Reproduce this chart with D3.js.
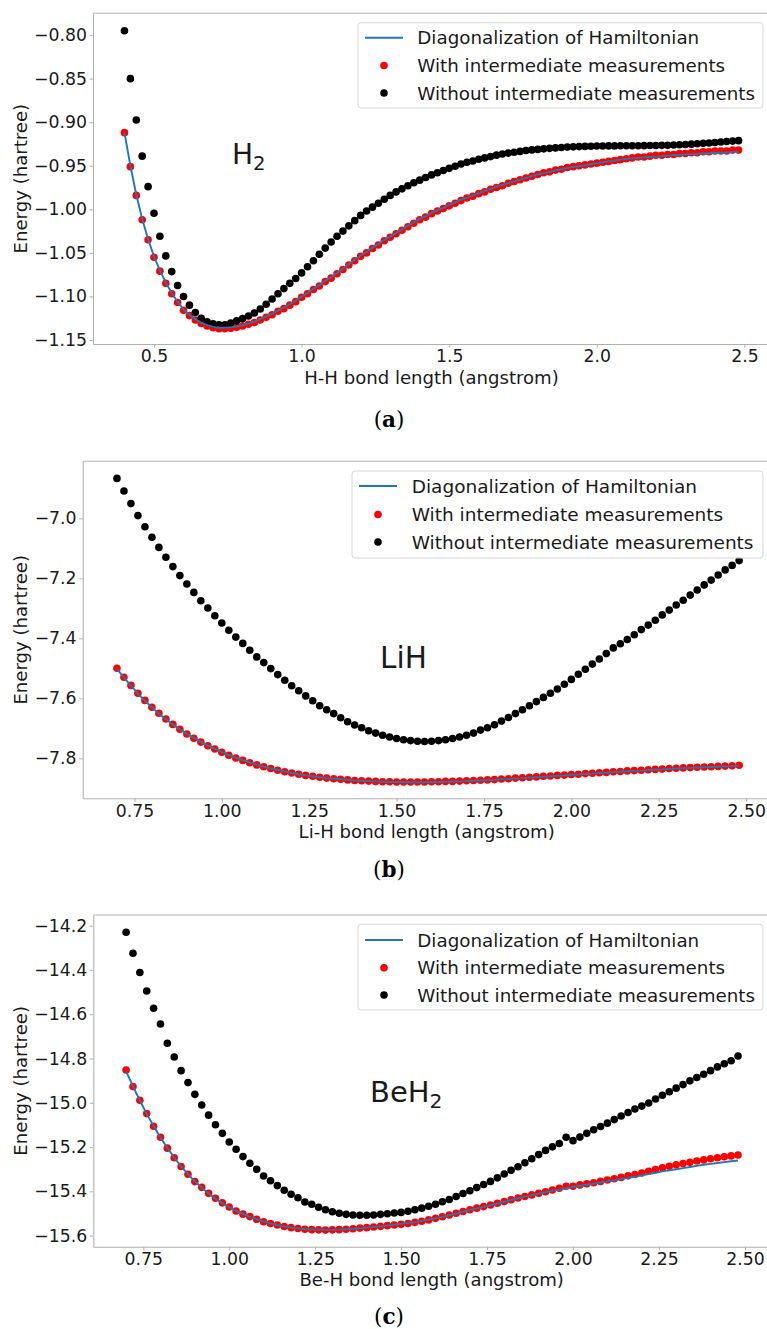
<!DOCTYPE html>
<html>
<head>
<meta charset="utf-8">
<script src="https://cdn.jsdelivr.net/npm/d3@7/dist/d3.min.js"></script>
<style>
  body { margin: 0; background: #fff; overflow: hidden; }
  svg { display: block; }
</style>
</head>
<body>
<div id="chart"></div>
<script>
// legend entries, shared by all panels
const seriesNames = ["Diagonalization of Hamiltonian", "With intermediate measurements", "Without intermediate measurements"];

// bond lengths (angstrom)
const bondH2 = [
  0.40,0.42,0.44,0.46,0.48,0.50,0.52,0.54,0.56,0.58,
  0.60,0.62,0.64,0.66,0.68,0.70,0.72,0.74,0.76,0.78,
  0.80,0.82,0.84,0.86,0.88,0.90,0.92,0.94,0.96,0.98,
  1.00,1.02,1.04,1.06,1.08,1.10,1.12,1.14,1.16,1.18,
  1.20,1.22,1.24,1.26,1.28,1.30,1.32,1.34,1.36,1.38,
  1.40,1.42,1.44,1.46,1.48,1.50,1.52,1.54,1.56,1.58,
  1.60,1.62,1.64,1.66,1.68,1.70,1.72,1.74,1.76,1.78,
  1.80,1.82,1.84,1.86,1.88,1.90,1.92,1.94,1.96,1.98,
  2.00,2.02,2.04,2.06,2.08,2.10,2.12,2.14,2.16,2.18,
  2.20,2.22,2.24,2.26,2.28,2.30,2.32,2.34,2.36,2.38,
  2.40,2.42,2.44,2.46,2.48
];
const bondHeavy = [
  0.70,0.72,0.74,0.76,0.78,0.80,0.82,0.84,0.86,0.88,
  0.90,0.92,0.94,0.96,0.98,1.00,1.02,1.04,1.06,1.08,
  1.10,1.12,1.14,1.16,1.18,1.20,1.22,1.24,1.26,1.28,
  1.30,1.32,1.34,1.36,1.38,1.40,1.42,1.44,1.46,1.48,
  1.50,1.52,1.54,1.56,1.58,1.60,1.62,1.64,1.66,1.68,
  1.70,1.72,1.74,1.76,1.78,1.80,1.82,1.84,1.86,1.88,
  1.90,1.92,1.94,1.96,1.98,2.00,2.02,2.04,2.06,2.08,
  2.10,2.12,2.14,2.16,2.18,2.20,2.22,2.24,2.26,2.28,
  2.30,2.32,2.34,2.36,2.38,2.40,2.42,2.44,2.46,2.48
];

// H2 energies (hartree)
const h2Exact = [
  -0.912,-0.950,-0.983,-1.011,-1.034,-1.054,-1.070,-1.084,-1.096,-1.106,
  -1.115,-1.121,-1.126,-1.130,-1.133,-1.135,-1.136,-1.136,-1.1355,-1.1345,
  -1.133,-1.131,-1.129,-1.126,-1.123,-1.120,-1.116,-1.113,-1.109,-1.105,
  -1.100,-1.096,-1.091,-1.087,-1.082,-1.078,-1.073,-1.068,-1.063,-1.058,
  -1.053,-1.049,-1.044,-1.040,-1.035,-1.031,-1.027,-1.023,-1.019,-1.015,
  -1.011,-1.008,-1.004,-1.001,-0.998,-0.995,-0.992,-0.989,-0.9865,-0.984,
  -0.9815,-0.979,-0.9765,-0.974,-0.972,-0.970,-0.968,-0.966,-0.964,-0.962,
  -0.960,-0.9585,-0.957,-0.9555,-0.954,-0.9525,-0.9515,-0.9505,-0.9495,-0.948,
  -0.947,-0.946,-0.945,-0.944,-0.943,-0.942,-0.9415,-0.941,-0.9405,-0.940,
  -0.9395,-0.939,-0.9385,-0.938,-0.9375,-0.937,-0.9367,-0.9365,-0.936,-0.9357,
  -0.9354,-0.935,-0.9347,-0.9344,-0.934
];
const h2With = [
  -0.912,-0.951,-0.984,-1.012,-1.035,-1.055,-1.071,-1.085,-1.097,-1.107,
  -1.116,-1.122,-1.127,-1.131,-1.134,-1.136,-1.137,-1.137,-1.1365,-1.1355,
  -1.134,-1.132,-1.130,-1.127,-1.124,-1.121,-1.117,-1.114,-1.110,-1.106,
  -1.101,-1.097,-1.092,-1.088,-1.083,-1.079,-1.074,-1.069,-1.064,-1.059,
  -1.054,-1.050,-1.045,-1.041,-1.036,-1.032,-1.028,-1.024,-1.020,-1.016,
  -1.012,-1.009,-1.005,-1.002,-0.999,-0.996,-0.993,-0.990,-0.987,-0.985,
  -0.982,-0.980,-0.977,-0.975,-0.973,-0.970,-0.968,-0.966,-0.964,-0.962,
  -0.960,-0.958,-0.957,-0.955,-0.954,-0.952,-0.951,-0.950,-0.949,-0.948,
  -0.947,-0.946,-0.945,-0.944,-0.943,-0.942,-0.941,-0.940,-0.940,-0.939,
  -0.938,-0.938,-0.937,-0.937,-0.936,-0.936,-0.935,-0.935,-0.934,-0.934,
  -0.933,-0.933,-0.933,-0.932,-0.932
];
const h2Without = [
  -0.795,-0.850,-0.8975,-0.939,-0.974,-1.0045,-1.031,-1.0535,-1.0715,-1.0875,
  -1.100,-1.110,-1.1185,-1.125,-1.129,-1.1315,-1.1325,-1.1325,-1.1305,-1.128,
  -1.1255,-1.1225,-1.119,-1.1145,-1.109,-1.103,-1.097,-1.091,-1.085,-1.0795,
  -1.073,-1.066,-1.059,-1.0515,-1.0445,-1.0375,-1.031,-1.025,-1.019,-1.013,
  -1.007,-1.002,-0.9975,-0.993,-0.9885,-0.984,-0.980,-0.9765,-0.973,-0.9695,
  -0.9665,-0.9635,-0.9605,-0.958,-0.9555,-0.953,-0.9505,-0.948,-0.946,-0.9445,
  -0.9425,-0.941,-0.9395,-0.9378,-0.9365,-0.9355,-0.9345,-0.9335,-0.9325,-0.9318,
  -0.9312,-0.9306,-0.930,-0.9295,-0.929,-0.9286,-0.9283,-0.928,-0.9278,-0.9276,
  -0.9274,-0.9273,-0.9272,-0.9272,-0.9271,-0.9271,-0.927,-0.927,-0.9269,-0.9268,
  -0.9267,-0.9266,-0.9264,-0.9262,-0.9259,-0.9256,-0.9252,-0.9248,-0.9243,-0.9238,
  -0.9233,-0.9228,-0.9222,-0.9217,-0.9212
];

// LiH energies (hartree)
const lihExact = [
  -7.502,-7.531,-7.558,-7.584,-7.608,-7.630,-7.651,-7.670,-7.687,-7.703,
  -7.718,-7.732,-7.745,-7.757,-7.768,-7.779,-7.789,-7.798,-7.806,-7.814,
  -7.821,-7.828,-7.834,-7.839,-7.844,-7.849,-7.853,-7.857,-7.860,-7.863,
  -7.866,-7.868,-7.870,-7.872,-7.874,-7.875,-7.876,-7.877,-7.878,-7.879,
  -7.879,-7.880,-7.880,-7.880,-7.880,-7.879,-7.879,-7.878,-7.878,-7.877,
  -7.876,-7.875,-7.874,-7.873,-7.872,-7.870,-7.869,-7.867,-7.866,-7.864,
  -7.863,-7.861,-7.860,-7.858,-7.857,-7.855,-7.854,-7.852,-7.851,-7.849,
  -7.848,-7.846,-7.845,-7.843,-7.842,-7.841,-7.839,-7.838,-7.837,-7.835,
  -7.834,-7.833,-7.832,-7.831,-7.830,-7.829,-7.828,-7.827,-7.826,-7.825
];
const lihWith = [
  -7.500,-7.530,-7.557,-7.583,-7.607,-7.630,-7.650,-7.669,-7.687,-7.703,
  -7.719,-7.733,-7.746,-7.758,-7.769,-7.780,-7.790,-7.799,-7.807,-7.815,
  -7.822,-7.828,-7.834,-7.840,-7.845,-7.849,-7.853,-7.857,-7.860,-7.863,
  -7.866,-7.868,-7.870,-7.872,-7.874,-7.875,-7.876,-7.877,-7.878,-7.878,
  -7.879,-7.879,-7.879,-7.879,-7.879,-7.878,-7.878,-7.877,-7.877,-7.876,
  -7.875,-7.874,-7.873,-7.872,-7.871,-7.869,-7.868,-7.866,-7.865,-7.863,
  -7.862,-7.860,-7.859,-7.857,-7.856,-7.854,-7.853,-7.851,-7.850,-7.848,
  -7.847,-7.845,-7.844,-7.842,-7.841,-7.840,-7.838,-7.837,-7.836,-7.834,
  -7.833,-7.832,-7.831,-7.830,-7.829,-7.828,-7.827,-7.826,-7.825,-7.823
];
const lihWithout = [
  -6.867,-6.909,-6.951,-6.991,-7.028,-7.063,-7.097,-7.130,-7.161,-7.191,
  -7.219,-7.247,-7.275,-7.299,-7.325,-7.349,-7.373,-7.396,-7.417,-7.440,
  -7.462,-7.481,-7.501,-7.521,-7.540,-7.558,-7.575,-7.592,-7.608,-7.625,
  -7.638,-7.651,-7.665,-7.678,-7.689,-7.698,-7.708,-7.716,-7.723,-7.729,
  -7.734,-7.738,-7.741,-7.743,-7.744,-7.743,-7.741,-7.738,-7.734,-7.729,
  -7.723,-7.716,-7.706,-7.698,-7.688,-7.676,-7.664,-7.651,-7.638,-7.625,
  -7.611,-7.597,-7.583,-7.569,-7.553,-7.537,-7.520,-7.503,-7.486,-7.469,
  -7.451,-7.432,-7.418,-7.404,-7.388,-7.371,-7.356,-7.340,-7.322,-7.306,
  -7.289,-7.273,-7.256,-7.239,-7.222,-7.206,-7.189,-7.172,-7.157,-7.141
];

// BeH2 energies (hartree)
const beh2Exact = [
  -14.858,-14.925,-14.990,-15.050,-15.105,-15.157,-15.204,-15.247,-15.287,-15.322,
  -15.355,-15.384,-15.410,-15.433,-15.453,-15.472,-15.488,-15.502,-15.515,-15.526,
  -15.536,-15.545,-15.552,-15.558,-15.563,-15.567,-15.570,-15.572,-15.573,-15.574,
  -15.574,-15.573,-15.571,-15.569,-15.567,-15.564,-15.561,-15.558,-15.555,-15.551,
  -15.547,-15.543,-15.539,-15.534,-15.528,-15.522,-15.515,-15.508,-15.500,-15.492,
  -15.484,-15.477,-15.470,-15.463,-15.455,-15.447,-15.439,-15.431,-15.424,-15.417,
  -15.410,-15.404,-15.398,-15.392,-15.386,-15.380,-15.375,-15.370,-15.365,-15.360,
  -15.355,-15.350,-15.344,-15.339,-15.334,-15.328,-15.322,-15.316,-15.310,-15.305,
  -15.300,-15.295,-15.290,-15.285,-15.280,-15.276,-15.272,-15.268,-15.264,-15.261
];
const beh2With = [
  -14.852,-14.927,-14.989,-15.049,-15.106,-15.156,-15.205,-15.248,-15.288,-15.323,
  -15.356,-15.382,-15.409,-15.431,-15.452,-15.471,-15.489,-15.503,-15.514,-15.526,
  -15.537,-15.545,-15.552,-15.559,-15.564,-15.568,-15.571,-15.573,-15.574,-15.575,
  -15.574,-15.573,-15.571,-15.569,-15.566,-15.564,-15.561,-15.558,-15.555,-15.552,
  -15.549,-15.545,-15.540,-15.535,-15.529,-15.522,-15.515,-15.507,-15.499,-15.491,
  -15.483,-15.476,-15.469,-15.462,-15.454,-15.446,-15.438,-15.430,-15.423,-15.416,
  -15.409,-15.402,-15.394,-15.386,-15.377,-15.377,-15.371,-15.366,-15.361,-15.355,
  -15.349,-15.343,-15.337,-15.330,-15.324,-15.317,-15.309,-15.302,-15.294,-15.287,
  -15.280,-15.274,-15.269,-15.263,-15.258,-15.253,-15.248,-15.244,-15.240,-15.236
];
const beh2Without = [
  -14.230,-14.325,-14.412,-14.495,-14.573,-14.644,-14.731,-14.793,-14.855,-14.909,
  -14.962,-15.010,-15.056,-15.099,-15.138,-15.177,-15.210,-15.243,-15.273,-15.300,
  -15.331,-15.352,-15.374,-15.395,-15.413,-15.429,-15.448,-15.458,-15.472,-15.483,
  -15.492,-15.499,-15.504,-15.507,-15.508,-15.508,-15.507,-15.504,-15.501,-15.498,
  -15.495,-15.490,-15.483,-15.476,-15.467,-15.458,-15.447,-15.437,-15.423,-15.410,
  -15.397,-15.383,-15.369,-15.355,-15.339,-15.322,-15.305,-15.289,-15.271,-15.253,
  -15.234,-15.215,-15.199,-15.184,-15.156,-15.171,-15.155,-15.138,-15.122,-15.107,
  -15.092,-15.076,-15.060,-15.044,-15.028,-15.015,-15.001,-14.983,-14.966,-14.950,
  -14.934,-14.918,-14.901,-14.886,-14.871,-14.855,-14.838,-14.824,-14.810,-14.789
];

// tick values
const h2XTicks = [0.5, 1.0, 1.5, 2.0, 2.5];
const h2YTicks = [-1.15, -1.10, -1.05, -1.00, -0.95, -0.90, -0.85, -0.80];
const heavyXTicks = [0.75, 1.00, 1.25, 1.50, 1.75, 2.00, 2.25, 2.50];
const lihYTicks = [-7.8, -7.6, -7.4, -7.2, -7.0];
const beh2YTicks = [-15.6, -15.4, -15.2, -15.0, -14.8, -14.6, -14.4, -14.2];

const W = 767, H = 1329;
const font = "DejaVu Sans, sans-serif";

const svg = d3.select("#chart").append("svg")
  .attr("width", W)
  .attr("height", H)
  .attr("viewBox", `0 0 ${W} ${H}`);

// one panel = one matplotlib axes + caption under it (right spine is cut off by the page edge)
const panels = [
  {
    x: bondH2, exact: h2Exact, withM: h2With, withoutM: h2Without,
    xTicks: h2XTicks, yTicks: h2YTicks, xFmt: ".1f", yFmt: ".2f",
    left: 93, right: 770, top: 13.3, bottom: 344,
    xDomain: [0.2934, 2.5866], yDomain: [-1.1546, -0.775],
    xLabel: "H-H bond length (angstrom)",
    mol: ["H", "2"], molX: 232, molY: 164, molSize: 28,
    legend: { x: 358, y: 22.7, w: 405, h: 85.3, rows: [37.7, 65.5, 93], textX: 417.3, size: 18.3 },
    caption: "a", capY: 427
  },
  {
    x: bondHeavy, exact: lihExact, withM: lihWith, withoutM: lihWithout,
    xTicks: heavyXTicks, yTicks: lihYTicks, xFmt: ".2f", yFmt: ".1f",
    left: 82.7, right: 770.6, top: 461.3, bottom: 798.3,
    xDomain: [0.602, 2.57], yDomain: [-7.9333, -6.81],
    xLabel: "Li-H bond length (angstrom)",
    mol: ["LiH", ""], molX: 380, molY: 668.3, molSize: 29.5,
    legend: { x: 352, y: 471, w: 411, h: 87, rows: [486, 514.5, 542], textX: 411.7, size: 18.5 },
    caption: "b", capY: 877
  },
  {
    x: bondHeavy, exact: beh2Exact, withM: beh2With, withoutM: beh2Without,
    xTicks: heavyXTicks, yTicks: beh2YTicks, xFmt: ".2f", yFmt: ".1f",
    left: 93.3, right: 770, top: 915, bottom: 1246.7,
    xDomain: [0.6046, 2.573], yDomain: [-15.65, -14.152],
    xLabel: "Be-H bond length (angstrom)",
    mol: ["BeH", "2"], molX: 370, molY: 1101.7, molSize: 29,
    legend: { x: 358, y: 924.3, w: 405, h: 85.7, rows: [940, 967.7, 995], textX: 417.3, size: 18.3 },
    caption: "c", capY: 1324
  }
];

const spineColor = "#b0b0b0";
const textColor = "#1a1a1a";
const dotR = 3.8;

panels.forEach(p => {
  const g = svg.append("g");

  const x = d3.scaleLinear().domain(p.xDomain).range([p.left, p.right]);
  const y = d3.scaleLinear().domain(p.yDomain).range([p.bottom, p.top]);

  // scatter: with intermediate measurements (red), then without (black)
  g.append("g").selectAll("circle")
    .data(p.x.map((b, i) => [b, p.withM[i]]))
    .enter()
    .append("circle")
    .attr("cx", d => x(d[0]))
    .attr("cy", d => y(d[1]))
    .attr("r", dotR)
    .attr("fill", "#ff0000");

  g.append("g").selectAll("circle")
    .data(p.x.map((b, i) => [b, p.withoutM[i]]))
    .enter()
    .append("circle")
    .attr("cx", d => x(d[0]))
    .attr("cy", d => y(d[1]))
    .attr("r", dotR)
    .attr("fill", "#000000");

  // exact diagonalization line, drawn above the dots like matplotlib does
  const line = d3.line()
    .x(d => x(d[0]))
    .y(d => y(d[1]));
  g.append("path")
    .datum(p.x.map((b, i) => [b, p.exact[i]]))
    .attr("fill", "none")
    .attr("stroke", "#1f77b4")
    .attr("stroke-width", 1.9)
    .attr("d", line);

  // axes
  const xAxis = g.append("g")
    .attr("transform", `translate(0,${p.bottom})`)
    .call(d3.axisBottom(x).tickValues(p.xTicks).tickFormat(d3.format(p.xFmt))
      .tickSize(3.5).tickSizeOuter(0).tickPadding(2.7));
  const yAxis = g.append("g")
    .attr("transform", `translate(${p.left},0)`)
    .call(d3.axisLeft(y).tickValues(p.yTicks).tickFormat(d3.format(p.yFmt))
      .tickSize(3.5).tickSizeOuter(0).tickPadding(2.6));

  [xAxis, yAxis].forEach(a => {
    a.select(".domain").attr("stroke", spineColor).attr("stroke-width", 1.1);
    a.selectAll(".tick line").attr("stroke", spineColor).attr("stroke-width", 1);
    a.selectAll(".tick text")
      .attr("fill", textColor)
      .style("font-family", font)
      .style("font-size", "17.3px");
  });

  // top spine
  g.append("line")
    .attr("x1", p.left).attr("x2", p.right)
    .attr("y1", p.top).attr("y2", p.top)
    .attr("stroke", spineColor).attr("stroke-width", 1.1);

  // axis labels
  g.append("text")
    .attr("x", (p.left + p.right) / 2)
    .attr("y", p.bottom + 39.7)
    .attr("text-anchor", "middle")
    .attr("fill", textColor)
    .style("font-family", font)
    .style("font-size", "18.1px")
    .text(p.xLabel);

  g.append("text")
    .attr("transform", `translate(26.7,${(p.top + p.bottom) / 2}) rotate(-90)`)
    .attr("text-anchor", "middle")
    .attr("fill", textColor)
    .style("font-family", font)
    .style("font-size", "18.1px")
    .text("Energy (hartree)");

  // molecule name
  const mol = g.append("text")
    .attr("x", p.molX)
    .attr("y", p.molY)
    .attr("fill", textColor)
    .style("font-family", font)
    .style("font-size", p.molSize + "px")
    .text(p.mol[0]);
  if (p.mol[1]) {
    mol.append("tspan")
      .attr("dy", p.molSize * 0.2)
      .style("font-size", (p.molSize * 0.7) + "px")
      .text(p.mol[1]);
  }

  // legend
  const L = p.legend;
  const lg = g.append("g");
  lg.append("rect")
    .attr("x", L.x).attr("y", L.y)
    .attr("width", L.w).attr("height", L.h)
    .attr("rx", 3)
    .attr("fill", "#fff").attr("fill-opacity", 0.85)
    .attr("stroke", "#d6d6d6").attr("stroke-width", 1);
  const swX = L.x + 7, swW = 38;
  lg.append("line")
    .attr("x1", swX).attr("x2", swX + swW)
    .attr("y1", L.rows[0]).attr("y2", L.rows[0])
    .attr("stroke", "#1f77b4").attr("stroke-width", 1.9);
  lg.append("circle")
    .attr("cx", swX + swW / 2).attr("cy", L.rows[1]).attr("r", dotR).attr("fill", "#ff0000");
  lg.append("circle")
    .attr("cx", swX + swW / 2).attr("cy", L.rows[2]).attr("r", dotR).attr("fill", "#000000");
  lg.selectAll("text.entry")
    .data(seriesNames)
    .enter()
    .append("text")
    .attr("class", "entry")
    .attr("x", L.textX)
    .attr("y", (d, i) => L.rows[i] + L.size * 0.36)
    .attr("fill", textColor)
    .style("font-family", font)
    .style("font-size", L.size + "px")
    .text(d => d);

  // caption (a) / (b) / (c)
  const cap = g.append("text")
    .attr("x", 389)
    .attr("y", p.capY)
    .attr("text-anchor", "middle")
    .attr("fill", "#000")
    .style("font-family", "DejaVu Serif, serif")
    .style("font-size", "21.5px");
  cap.append("tspan").text("(");
  cap.append("tspan").style("font-weight", "bold").text(p.caption);
  cap.append("tspan").text(")");
});
</script>
</body>
</html>
